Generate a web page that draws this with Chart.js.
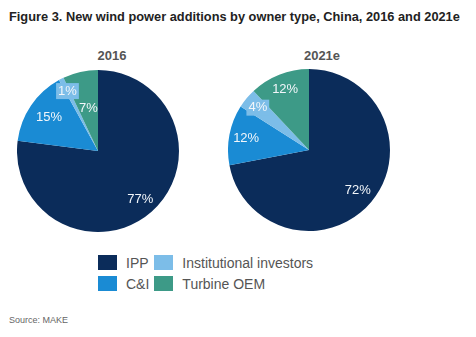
<!DOCTYPE html>
<html>
<head>
<meta charset="utf-8">
<script src="https://cdn.jsdelivr.net/npm/chart.js@4"></script>
<style>
  body { margin: 0; background: #fff; font-family: "Liberation Sans", Arial, sans-serif; }
  #wrap { position: relative; width: 476px; height: 337px; overflow: hidden; }
  #title { position: absolute; left: 9px; top: 9px; font-weight: bold; font-size: 12.8px; color: #222; white-space: nowrap; }
  .sub { position: absolute; top: 48px; width: 80px; text-align: center; font-weight: bold; font-size: 13px; color: #555; }
  canvas { position: absolute; }
  #legend { position: absolute; left: 98px; top: 252px; display: grid; grid-template-columns: auto auto; grid-auto-flow: column; grid-template-rows: 21px 21px; column-gap: 5px; font-size: 14px; color: #555; }
  .item { display: flex; align-items: center; }
  .box { width: 19px; height: 15px; margin-right: 9px; }
  #source { position: absolute; left: 9px; top: 315px; font-size: 9px; color: #666; }
</style>
</head>
<body>
<div id="wrap">
  <div id="title">Figure 3. New wind power additions by owner type, China, 2016 and 2021e</div>
  <div class="sub" style="left:72px">2016</div>
  <div class="sub" style="left:282px">2021e</div>
  <canvas id="pie2016" width="162" height="162" style="left:17px; top:70px"></canvas>
  <canvas id="pie2021" width="162" height="162" style="left:228px; top:69px"></canvas>
  <div id="legend"></div>
  <div id="source">Source: MAKE</div>
</div>
<script>
// data
const owners = ['IPP', 'C&I', 'Institutional investors', 'Turbine OEM'];
const share2016 = [77, 15, 1, 7];
const share2021 = [72, 12, 4, 12];
const colors = ['#0b2c5a', '#1a8bd4', '#7cbde8', '#3d9a87'];

// how far out each percent label sits (fraction of radius)
const labelR2016 = [0.79, 0.73, 0.83, 0.54];
const labelR2021 = [0.78, 0.79, 0.82, 0.80];

const pctLabels = {
    id: 'pctLabels',
    afterDatasetsDraw(chart, args, opts) {
        const ctx = chart.ctx;
        const meta = chart.getDatasetMeta(0);
        const vals = chart.data.datasets[0].data;
        ctx.save();
        ctx.font = '13px "Liberation Sans", Arial, sans-serif';
        ctx.textAlign = 'center';
        ctx.textBaseline = 'middle';
        meta.data.forEach((arc, i) => {
            const mid = (arc.startAngle + arc.endAngle) / 2;
            const r = arc.outerRadius * opts.radii[i];
            const x = arc.x + Math.cos(mid) * r;
            const y = arc.y + Math.sin(mid) * r;
            const txt = vals[i] + '%';
            // small slices get a box behind the label
            if (vals[i] < 5) {
                const w = ctx.measureText(txt).width + 4;
                ctx.fillStyle = colors[i];
                ctx.fillRect(x - w / 2, y - 8, w, 16);
            }
            ctx.fillStyle = '#f2f6fa';
            ctx.fillText(txt, x, y);
        });
        ctx.restore();
    }
};

function makePie(id, values, radii) {
    new Chart(document.getElementById(id), {
        type: 'pie',
        data: {
            labels: owners,
            datasets: [{
                data: values,
                backgroundColor: colors,
                borderWidth: 0
            }]
        },
        options: {
            responsive: false,
            animation: false,
            devicePixelRatio: 1,
            layout: { padding: 0 },
            plugins: {
                legend: { display: false },
                tooltip: { enabled: false },
                pctLabels: { radii: radii }
            }
        },
        plugins: [pctLabels]
    });
}

makePie('pie2016', share2016, labelR2016);
makePie('pie2021', share2021, labelR2021);

// legend, two columns
const legend = document.getElementById('legend');
owners.forEach((name, i) => {
    const item = document.createElement('div');
    item.className = 'item';
    item.innerHTML = '<span class="box" style="background:' + colors[i] + '"></span>' + name.replace('&', '&amp;');
    legend.appendChild(item);
});
</script>
</body>
</html>
